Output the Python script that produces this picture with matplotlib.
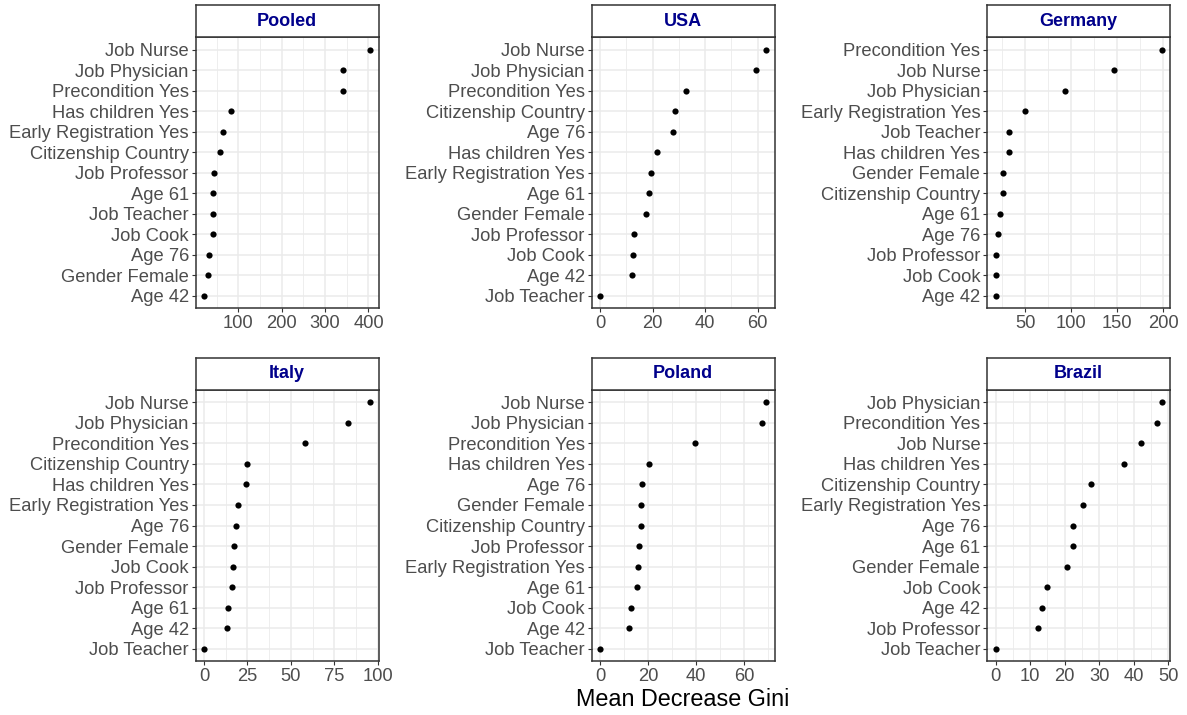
import matplotlib
matplotlib.use("Agg")
import matplotlib.pyplot as plt
from matplotlib.ticker import MultipleLocator

plt.rcParams['font.family'] = ['Liberation Sans', 'DejaVu Sans']

# values, listed top to bottom
pooled_labels = ["Job Nurse", "Job Physician", "Precondition Yes", "Has children Yes",
                 "Early Registration Yes", "Citizenship Country", "Job Professor", "Age 61",
                 "Job Teacher", "Job Cook", "Age 76", "Gender Female", "Age 42"]
pooled_vals = [404, 342, 341, 84, 64, 59, 44, 42, 41, 41, 33, 30, 21]

usa_labels = ["Job Nurse", "Job Physician", "Precondition Yes", "Citizenship Country", "Age 76",
              "Has children Yes", "Early Registration Yes", "Age 61", "Gender Female",
              "Job Professor", "Job Cook", "Age 42", "Job Teacher"]
usa_vals = [63.2, 59.5, 32.6, 28.7, 27.8, 21.7, 19.5, 18.6, 17.6, 12.8, 12.4, 12.3, 0]

germany_labels = ["Precondition Yes", "Job Nurse", "Job Physician", "Early Registration Yes",
                  "Job Teacher", "Has children Yes", "Gender Female", "Citizenship Country",
                  "Age 61", "Age 76", "Job Professor", "Job Cook", "Age 42"]
germany_vals = [198.3, 146.2, 93, 50, 32, 31.8, 26, 25.5, 22, 20, 18.5, 18, 17.6]

italy_labels = ["Job Nurse", "Job Physician", "Precondition Yes", "Citizenship Country",
                "Has children Yes", "Early Registration Yes", "Age 76", "Gender Female",
                "Job Cook", "Job Professor", "Age 61", "Age 42", "Job Teacher"]
italy_vals = [95.7, 83.1, 58, 24.5, 23.9, 19.5, 18.2, 17, 16.8, 15.9, 14, 13.2, 0]

poland_labels = ["Job Nurse", "Job Physician", "Precondition Yes", "Has children Yes", "Age 76",
                 "Gender Female", "Citizenship Country", "Job Professor", "Early Registration Yes",
                 "Age 61", "Job Cook", "Age 42", "Job Teacher"]
poland_vals = [69.1, 67.3, 39.3, 20.3, 17.3, 17.1, 17.0, 16.3, 15.8, 15.4, 12.7, 12, 0]

brazil_labels = ["Job Physician", "Precondition Yes", "Job Nurse", "Has children Yes",
                 "Citizenship Country", "Early Registration Yes", "Age 76", "Age 61",
                 "Gender Female", "Job Cook", "Age 42", "Job Professor", "Job Teacher"]
brazil_vals = [48.1, 46.7, 42, 37.3, 27.7, 25.2, 22.4, 22.3, 20.6, 15, 13.5, 12.4, 0]

panels = [
    ("Pooled", pooled_labels, pooled_vals, 100),
    ("USA", usa_labels, usa_vals, 20),
    ("Germany", germany_labels, germany_vals, 50),
    ("Italy", italy_labels, italy_vals, 25),
    ("Poland", poland_labels, poland_vals, 20),
    ("Brazil", brazil_labels, brazil_vals, 10),
]

W, H = 1187, 715
fig = plt.figure(figsize=(W / 100, H / 100), dpi=100)

lefts = [195.7, 591.7, 987.3]
width = 182.8
tops = [37.3, 390]
height = 271
strip_h = 32

for i, (name, labels, vals, step) in enumerate(panels):
    r, c = divmod(i, 3)
    x0, top = lefts[c], tops[r]
    ax = fig.add_axes([x0 / W, 1 - (top + height) / H, width / W, height / H])
    n = len(labels)
    y = list(range(n, 0, -1))
    ax.scatter(vals, y, s=20, color="black", zorder=3, linewidths=0)
    lo, hi = min(vals), max(vals)
    pad = (hi - lo) * 0.05
    ax.set_xlim(lo - pad, hi + pad)
    ax.set_ylim(0.4, n + 0.6)
    ax.set_yticks(y)
    ax.set_yticklabels(labels)
    ax.xaxis.set_major_locator(MultipleLocator(step))
    ax.xaxis.set_minor_locator(MultipleLocator(step / 2))
    ax.grid(which="major", color="#EBEBEB", linewidth=1.1)
    ax.grid(which="minor", axis="x", color="#EBEBEB", linewidth=0.6)
    ax.set_axisbelow(True)
    ax.tick_params(which="major", length=3, width=0.8, color="#333333",
                   labelcolor="#4D4D4D", labelsize=13.2, pad=2)
    ax.tick_params(which="minor", length=0)
    for sp in ax.spines.values():
        sp.set_color("#333333")
        sp.set_linewidth(1.1)

    sax = fig.add_axes([x0 / W, 1 - top / H, width / W, strip_h / H])
    sax.set_xticks([])
    sax.set_yticks([])
    for sp in sax.spines.values():
        sp.set_color("#333333")
        sp.set_linewidth(1.1)
    sax.text(0.5, 0.5, name, ha="center", va="center", color="#00008B",
             fontsize=13, fontweight="bold", transform=sax.transAxes)

fig.text(683 / W, 1 - 700 / H, "Mean Decrease Gini", ha="center", va="center",
         fontsize=16.8, color="black")

fig.savefig("out.png", dpi=100)
